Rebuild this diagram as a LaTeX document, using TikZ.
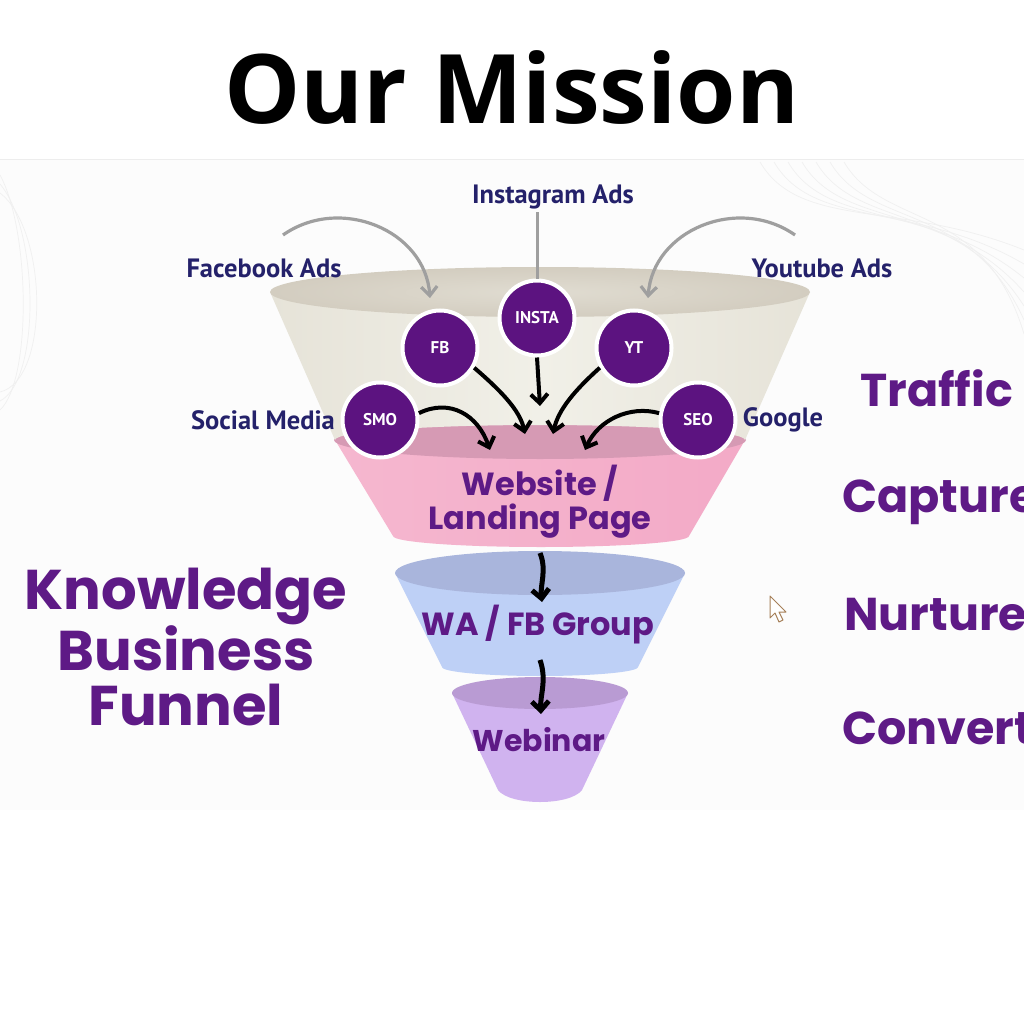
\documentclass[tikz,border=0pt]{standalone}
\usepackage{fontspec}
\setmainfont{Open Sans}
\newfontfamily\pop{Poppins}
\newfontfamily\pts{PT Sans}
\usetikzlibrary{arrows.meta}
\definecolor{navy}{HTML}{24216A}
\definecolor{plum}{HTML}{5E1A86}
\definecolor{circ}{HTML}{5C1380}
\definecolor{beigeB}{HTML}{F1F0E8}
\definecolor{beigeE}{HTML}{E6E3D8}
\definecolor{beigeT}{HTML}{D3CDC0}
\definecolor{beigeI}{HTML}{E0DCD1}
\definecolor{pinkB}{HTML}{F3AAC7}
\definecolor{pinkL}{HTML}{F5B7CF}
\definecolor{pinkT}{HTML}{D69AB4}
\definecolor{blueB}{HTML}{BED0F6}
\definecolor{blueT}{HTML}{A9B5DC}
\definecolor{purB}{HTML}{D0B3EF}
\definecolor{purT}{HTML}{B99BD3}
\tikzset{
  x=1pt,y=-1pt,
  src/.style={font=\pts\bfseries\fontsize{26.5}{29}\selectfont,text=navy,inner sep=0pt},
  bub/.style={circle,minimum size=75pt,inner sep=0pt,fill=circ,draw=white,line width=4pt,text=white,font=\pts\bfseries\fontsize{17}{19}\selectfont},
  stage/.style={font=\pop\bfseries\fontsize{46}{50}\selectfont,text=plum,anchor=west,inner sep=0pt},
  flab/.style={font=\pop\bfseries\fontsize{32}{34}\selectfont,text=plum,align=center,inner sep=0pt},
  grayarr/.style={draw=gray!75,line width=3.2pt,-{Straight Barb[length=9pt,width=16pt]}},
  blkarr/.style={draw=black,line width=4pt,-{Straight Barb[length=9pt,width=17pt]}},
  deco/.style={draw=black!6,line width=0.7pt}
}
\begin{document}
\begin{tikzpicture}
\useasboundingbox (0,0) rectangle (1024,1024);
\fill[white] (0,0) rectangle (1024,1024);
% slide area
\fill[black!1] (0,160) rectangle (1024,810);
\draw[black!7,line width=1pt] (0,160) -- (1024,160);
% decorative lines
\foreach \d in {0,9,18}{
  \draw[deco] (0,175+\d) .. controls (30+\d,230) and (32+\d,380) .. (0,410-\d);
}
\foreach \d in {0,14,28,42,56,70,84}{
  \draw[deco] (760+\d,162) .. controls (800+\d,230) and (900+\d,200) .. (1024,250+\d);
}
% title
\node[font=\bfseries\fontsize{96}{100}\selectfont,inner sep=0pt] (title) at (512,88) {Our Mission};

% purple section
\fill[purB] (452,693) -- (498,790) .. controls (510,806) and (570,806) .. (582,790) -- (628,693) -- cycle;
\fill[purT] (540,693) ellipse [x radius=88, y radius=16];
% blue section
\fill[blueB] (395,573) -- (442,667) arc[start angle=180,end angle=0,x radius=98,y radius=9] -- (685,573) -- cycle;
\fill[blueT] (540,573) ellipse [x radius=145, y radius=22];
% pink section
\shade[left color=pinkL,right color=pinkB] (335,440) -- (393,536) arc[start angle=180,end angle=0,x radius=148,y radius=11] -- (745,440) -- cycle;
\fill[pinkT] (540,440) ellipse [x radius=206, y radius=19];
% beige section
\shade[left color=beigeE,right color=beigeE,middle color=beigeB] (270,292) -- (335,440) arc[start angle=180,end angle=360,x radius=205,y radius=15] -- (810,292) -- cycle;
\shade[inner color=beigeI,outer color=beigeT] (540,292) ellipse [x radius=270, y radius=25];

% source labels
\node[src] (lig) at (553,197) {Instagram Ads};
\node[src] (lfb) at (264,268) {Facebook Ads};
\node[src] (lyt) at (822,268) {Youtube Ads};
\node[src] (lsm) at (263,420) {Social Media};
\node[src] (lgo) at (783,420) {Google};

% gray arrows
\coordinate (gfs) at (283,235);
\coordinate (gfe) at (430,298);
\coordinate (gys) at (795,235);
\coordinate (gye) at (648,298);
\draw[grayarr] (gfs) .. controls (340,195) and (425,230) .. (gfe);
\draw[grayarr] (gys) .. controls (738,195) and (653,230) .. (gye);

% bubbles
\node[bub] (insta) at (537,318) {INSTA};
\draw[draw=gray!75,line width=3pt] (lig.south -| insta) ++(0,3) -- (insta.north);
\node[bub] (fb) at (440,348) {FB};
\node[bub] (yt) at (634,348) {YT};
\node[bub] (smo) at (380,420) {SMO};
\node[bub] (seo) at (698,420) {SEO};

% black arrows
\coordinate (tfb) at (525,434);
\coordinate (tin) at (540,406);
\coordinate (tyt) at (553,434);
\coordinate (tsm) at (490,450);
\coordinate (tse) at (585,450);
\draw[blkarr] (fb.-30) .. controls (500,390) and (520,410) .. (tfb);
\draw[blkarr] (insta.south) -- (tin);
\draw[blkarr] (yt.-150) .. controls (575,390) and (558,410) .. (tyt);
\draw[blkarr] (smo.10) .. controls (450,398) and (478,415) .. (tsm);
\draw[blkarr] (seo.170) .. controls (630,405) and (598,420) .. (tse);

% funnel labels
\node[flab] (web) at (540,502) {Website /\\Landing Page};
\node[flab] (wa) at (538,625) {WA / FB Group};
\node[flab,font=\pop\bfseries\fontsize{30}{32}\selectfont] (wb) at (539,740) {Webinar};
\coordinate (a1s) at (540,553);
\coordinate (a1e) at (542,602);
\coordinate (a2s) at (540,660);
\coordinate (a2e) at (541,714);
\draw[blkarr,line width=5pt] (a1s) .. controls (547,570) and (540,585) .. (a1e);
\draw[blkarr,line width=5pt] (a2s) .. controls (547,680) and (540,695) .. (a2e);

% left title
\node[font=\pop\bfseries\fontsize{56}{55}\selectfont,text=plum,align=center,inner sep=0pt] (kbf) at (186,647) {Knowledge\\Business\\Funnel};

% right stages
\node[stage] (tr) at (860,388) {Traffic};
\node[stage] (ca) at (842,502) {Capture};
\node[stage] (nu) at (844,615) {Nurture};
\node[stage] (co) at (842,728) {Convert};

% cursor
\draw[draw=brown!60!gray,fill=white,line width=1pt,line join=round]
  (770,596) -- (770,618) -- (775,613) -- (779,622) -- (783,620) -- (779,612) -- (786,612) -- cycle;
\end{tikzpicture}
\end{document}
